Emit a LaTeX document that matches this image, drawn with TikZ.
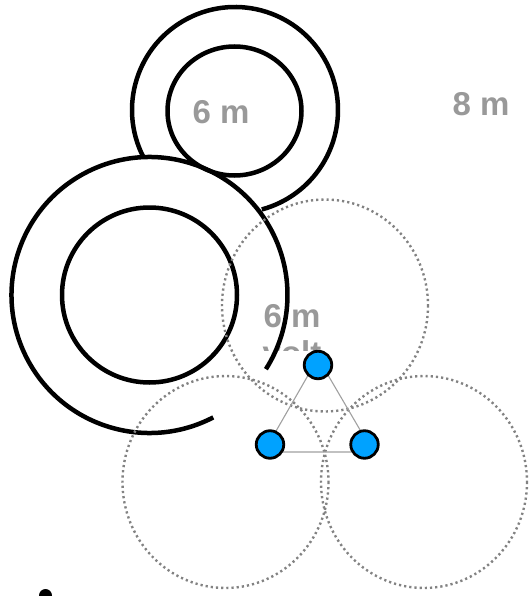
\documentclass[tikz,border=0pt]{standalone}
\usepackage{fontspec}
\setmainfont{Liberation Sans}
\definecolor{dotgray}{RGB}{130,130,130}
\definecolor{linegray}{RGB}{160,160,160}
\definecolor{labelgray}{RGB}{153,153,153}
\definecolor{apblue}{RGB}{0,162,255}
\begin{document}
\begin{tikzpicture}[x=1pt,y=-1pt,
  ring/.style={draw=black,line width=4.5pt},
  cover/.style={draw=dotgray,line width=2.4pt,dash pattern=on 2.2pt off 3pt},
  link/.style={draw=linegray,line width=1.1pt},
  ap/.style={circle,draw=black,line width=2.8pt,fill=apblue,minimum size=27.5pt,inner sep=0pt},
  lbl/.style={text=labelgray,font=\fontsize{33}{38}\selectfont\bfseries,inner sep=0pt}]
\useasboundingbox (0,0) rectangle (528,596);

% labels
\node[lbl,anchor=base] (ltop) at (221,124) {6 m};
\node[lbl,anchor=base] (lright) at (481,116) {8 m};
\node[lbl,anchor=base] (lmid) at (292,327) {6 m};
\begin{scope}
  \clip (250,335) rectangle (345,350);
  \node[lbl,anchor=base] (lmid2) at (292,364) {volt};
\end{scope}

% black rings
\coordinate (topc) at (235,110);
\coordinate (topic) at (234.5,111);
\coordinate (bigc) at (149.5,295);
\draw[ring] (topc) ++(152.5:103) arc[start angle=152.5,end angle=434.9,radius=103];
\draw[ring] (topic) circle[x radius=67,y radius=64.5];
\draw[ring] (bigc) ++(62.5:138) arc[start angle=62.5,end angle=392.5,radius=138];
\draw[ring] (bigc) circle[radius=87.5];

% dotted coverage circles
\coordinate (cov1) at (325,305.5);
\coordinate (cov2) at (225.5,482);
\coordinate (cov3) at (424,482);
\draw[cover] (cov1) ellipse[x radius=103,y radius=106];
\draw[cover] (cov2) ellipse[x radius=103,y radius=106];
\draw[cover] (cov3) ellipse[x radius=103,y radius=106];

% triangle
\coordinate (ta) at (318,358);
\coordinate (tb) at (264,452);
\coordinate (tc) at (373,452);
\draw[link] (ta) -- (tb) -- (tc) -- cycle;

% access points
\node[ap] (apt) at (318,365) {};
\node[ap] (apl) at (270,444.5) {};
\node[ap] (apr) at (364.5,444.5) {};

% black dot
\coordinate (dot) at (45.5,595.5);
\fill[black] (dot) circle[radius=6.5];
\end{tikzpicture}
\end{document}
